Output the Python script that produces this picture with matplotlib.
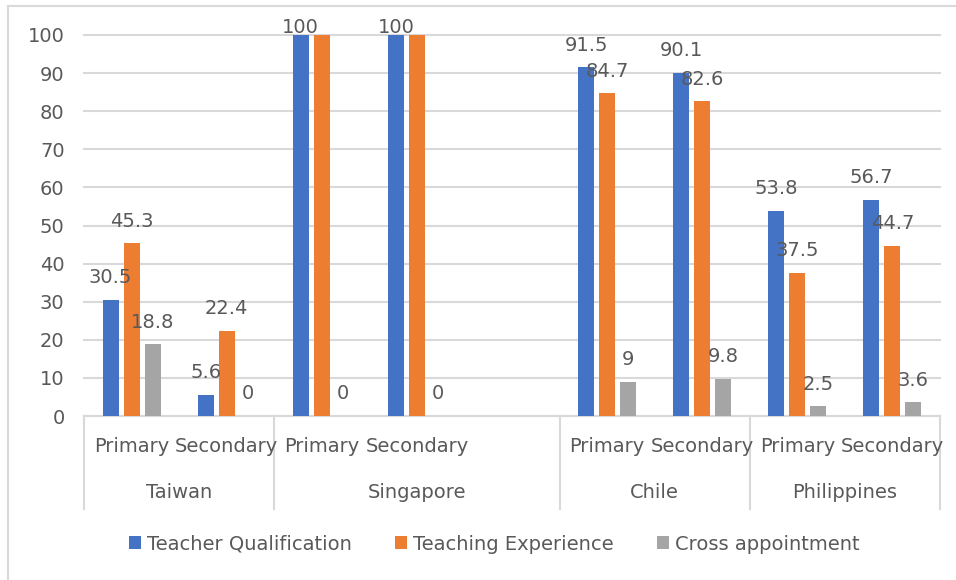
import matplotlib
matplotlib.use("Agg")
import matplotlib.pyplot as plt
import matplotlib.transforms as mtransforms
from matplotlib.lines import Line2D
import numpy as np

# categories (one empty slot after Singapore, as in the source chart)
levels = ["Primary", "Secondary", "Primary", "Secondary", "",
          "Primary", "Secondary", "Primary", "Secondary"]
countries = ["Taiwan", "Singapore", "Chile", "Philippines"]
country_span = [(0, 1), (2, 4), (5, 6), (7, 8)]

series = ["Teacher Qualification", "Teaching Experience", "Cross appointment"]
qualification = [30.5, 5.6, 100, 100, np.nan, 91.5, 90.1, 53.8, 56.7]
experience = [45.3, 22.4, 100, 100, np.nan, 84.7, 82.6, 37.5, 44.7]
cross = [18.8, 0, 0, 0, np.nan, 9, 9.8, 2.5, 3.6]

colors = ["#4472C4", "#ED7D31", "#A5A5A5"]
txt = "#595959"
grid = "#D9D9D9"
fs = 14

plt.rcParams["font.family"] = "DejaVu Sans"

fig = plt.figure(figsize=(9.56, 5.80), dpi=100)
ax = fig.add_axes([84 / 956, 1 - 416 / 580, (940 - 84) / 956, (416 - 35) / 580])

x = np.arange(len(levels))
w = 0.168
offs = [-0.221, 0, 0.221]
for k, (vals, c) in enumerate(zip([qualification, experience, cross], colors)):
    ax.bar(x + offs[k], vals, width=w, color=c, label=series[k], zorder=3)
    for xi, v in zip(x, vals):
        if np.isnan(v):
            continue
        if v >= 100:
            # label pushed inside the top, only one shows
            if k == 1:
                continue
            ax.annotate(f"{v:g}", (xi + offs[k], v), xytext=(0, 1.5),
                        textcoords="offset points", ha="center",
                        va="baseline", fontsize=fs, color=txt, zorder=5)
        else:
            ax.annotate(f"{v:g}", (xi + offs[k], v), xytext=(0, 12),
                        textcoords="offset points", ha="center",
                        va="baseline", fontsize=fs, color=txt, zorder=5)

ax.set_xlim(-0.5, len(levels) - 0.5)
ax.set_ylim(0, 100)
ax.set_yticks(np.arange(0, 101, 10))
ax.yaxis.grid(True, color=grid, linewidth=1.5, zorder=0)
for gl in ax.get_ygridlines():
    gl.set_clip_on(False)
ax.tick_params(axis="y", length=0, pad=14, labelsize=fs, labelcolor=txt)
ax.set_xticks([])
for s in ["top", "right", "left"]:
    ax.spines[s].set_visible(False)
ax.spines["bottom"].set_color(grid)
ax.spines["bottom"].set_linewidth(1.5)

# two-level category axis
tr = mtransforms.blended_transform_factory(ax.transData, ax.transAxes)
for xi, lab in zip(x, levels):
    ax.text(xi, -0.081, lab, transform=tr, ha="center", va="center",
            fontsize=fs, color=txt)
for name, (a, b) in zip(countries, country_span):
    ax.text((a + b) / 2, -0.2, name, transform=tr, ha="center", va="center",
            fontsize=fs, color=txt)
seps = [-0.5] + [b + 0.5 for _, b in country_span]
for sx in seps:
    ax.add_line(Line2D([sx, sx], [0, -0.244], transform=tr, color=grid,
                       linewidth=1.5, clip_on=False))

fig.legend(loc="center", bbox_to_anchor=(0.517, 1 - 544 / 580), ncol=3,
           frameon=False, fontsize=fs, labelcolor=txt, handlelength=0.65,
           handleheight=0.65, handletextpad=0.3, columnspacing=2.2)

# chart-area border (top and left edges visible)
fig.add_artist(Line2D([8 / 956, 1], [1 - 6 / 580, 1 - 6 / 580],
                      transform=fig.transFigure, color=grid, linewidth=1.5))
fig.add_artist(Line2D([8 / 956, 8 / 956], [0, 1 - 6 / 580],
                      transform=fig.transFigure, color=grid, linewidth=1.5))

fig.savefig("out.png", dpi=100)
